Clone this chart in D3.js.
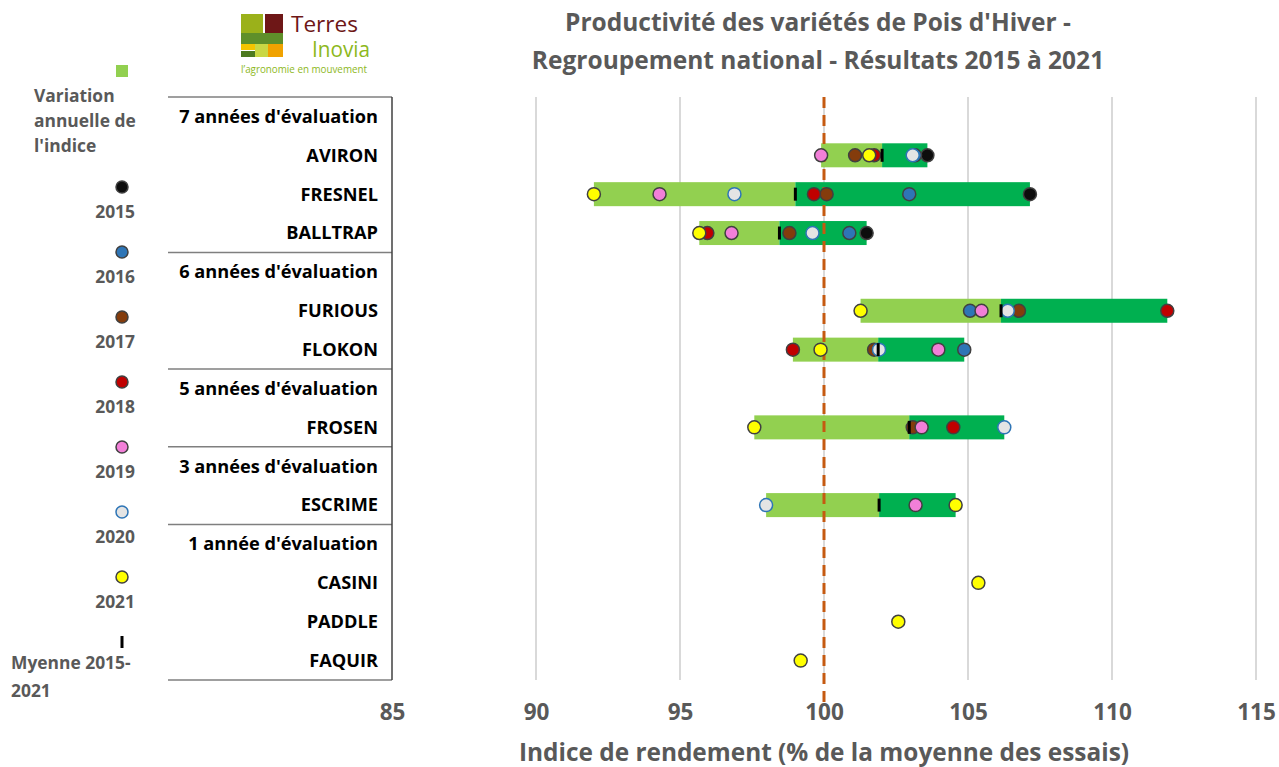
<!DOCTYPE html>
<html>
<head>
<meta charset="utf-8">
<script src="https://cdn.jsdelivr.net/npm/d3@7"></script>
<style>
  body { margin: 0; background: #fff; }
  text { font-family: "Open Sans", Lato, sans-serif; }
</style>
</head>
<body>
<div id="chart"></div>
<script>
// rows of the category panel (group headers + varieties)
const rows = [
    "7 années d'évaluation", "AVIRON", "FRESNEL", "BALLTRAP",
    "6 années d'évaluation", "FURIOUS", "FLOKON",
    "5 années d'évaluation", "FROSEN",
    "3 années d'évaluation", "ESCRIME",
    "1 année d'évaluation", "CASINI", "PADDLE", "FAQUIR"
];
const groupHeaders = ["7 années d'évaluation", "6 années d'évaluation", "5 années d'évaluation", "3 années d'évaluation", "1 année d'évaluation"];

const varieties = ["AVIRON", "FRESNEL", "BALLTRAP", "FURIOUS", "FLOKON", "FROSEN", "ESCRIME", "CASINI", "PADDLE", "FAQUIR"];
const years = ["2015", "2016", "2017", "2018", "2019", "2020", "2021"];

// yield index per year, one value per variety (null = not evaluated)
const y2015 = [103.59, 107.15, 101.48, null, null, null, null, null, null, null];
const y2016 = [103.16, 102.96, 100.88, 105.07, 104.87, null, null, null, null, null];
const y2017 = [101.08, 100.09, 98.80, 106.77, 101.74, 103.08, null, null, null, null];
const y2018 = [101.74, 99.65, 95.95, 111.92, 98.92, 104.49, null, null, null, null];
const y2019 = [99.90, 94.29, 96.79, 105.47, 103.97, 103.39, 103.18, null, null, null];
const y2020 = [103.08, 96.89, 99.60, 106.38, 101.91, 106.26, 97.99, null, null, null];
const y2021 = [101.57, 92.01, 95.67, 101.27, 99.88, 97.58, 104.57, 105.36, 102.58, 99.19];
const yearValues = [y2015, y2016, y2017, y2018, y2019, y2020, y2021];

const xTicks = [85, 90, 95, 100, 105, 110, 115];
const reference = 100;

const yearFill = ["#0d0d0d", "#2e75b6", "#843c0c", "#c00000", "#f27fd8", "#e4e4e4", "#ffff00"];
const yearStroke = ["#404040", "#404040", "#404040", "#404040", "#404040", "#2e75b6", "#404040"];
const LIGHT_GREEN = "#92d050";
const DARK_GREEN = "#00b050";
const GREY_TEXT = "#595959";

const W = 1279, H = 767;
const PLOT = { left: 392, right: 1256, top: 97, bottom: 680 };
const DOT_R = 6.5;
const BAR_H = 24;

const svg = d3.select("#chart").append("svg")
    .attr("width", W).attr("height", H);

const x = d3.scaleLinear().domain([85, 115]).range([PLOT.left, PLOT.right]);
const y = d3.scalePoint().domain(rows).range([PLOT.top, PLOT.bottom]).padding(0.5);

// gridlines
svg.append("g").selectAll("line")
    .data(xTicks.filter(t => t > 85))
    .join("line")
    .attr("x1", d => x(d)).attr("x2", d => x(d))
    .attr("y1", PLOT.top).attr("y2", PLOT.bottom)
    .attr("stroke", "#d9d9d9").attr("stroke-width", 2);

// category panel
const panel = svg.append("g");
const sepRows = groupHeaders.slice(1).map(h => y(h) - y.step() / 2);
panel.selectAll("line.sep")
    .data([PLOT.top, ...sepRows, PLOT.bottom])
    .join("line")
    .attr("x1", 168).attr("x2", PLOT.left)
    .attr("y1", d => d).attr("y2", d => d)
    .attr("stroke", "#7f7f7f").attr("stroke-width", 1.5);
panel.append("line")
    .attr("x1", PLOT.left).attr("x2", PLOT.left)
    .attr("y1", PLOT.top).attr("y2", PLOT.bottom)
    .attr("stroke", "#404040").attr("stroke-width", 1.5);
panel.selectAll("text")
    .data(rows)
    .join("text")
    .attr("x", 378).attr("y", d => y(d))
    .attr("dy", "0.35em")
    .attr("text-anchor", "end")
    .attr("font-size", 18.2).attr("font-weight", 700)
    .attr("fill", "#000")
    .text(d => d);

// x axis
const xAxis = d3.axisBottom(x).tickValues(xTicks).tickSize(0).tickPadding(0);
const axisG = svg.append("g")
    .attr("transform", `translate(0,${PLOT.bottom})`)
    .call(xAxis);
axisG.select(".domain").remove();
axisG.selectAll("text")
    .attr("y", 32).attr("dy", "0.35em")
    .attr("font-family", "'Open Sans', sans-serif")
    .attr("font-size", 22.5).attr("font-weight", 700)
    .attr("fill", GREY_TEXT);

svg.append("text")
    .attr("x", x(100)).attr("y", 752).attr("dy", "0.35em")
    .attr("text-anchor", "middle")
    .attr("font-size", 24.4).attr("font-weight", 700)
    .attr("fill", GREY_TEXT)
    .text("Indice de rendement (% de la moyenne des essais)");

// variety records
const records = varieties.map((name, i) => {
    const vals = years.map((yr, j) => ({ year: yr, idx: j, value: yearValues[j][i] }))
        .filter(d => d.value != null);
    const v = vals.map(d => d.value);
    return { name, vals, min: d3.min(v), max: d3.max(v), mean: d3.mean(v) };
});
const multi = records.filter(r => r.vals.length > 1);

// bars: min -> mean light green, mean -> max dark green
const bars = svg.append("g");
bars.selectAll("rect.low")
    .data(multi).join("rect")
    .attr("x", d => x(d.min)).attr("width", d => x(d.mean) - x(d.min))
    .attr("y", d => y(d.name) - BAR_H / 2).attr("height", BAR_H)
    .attr("fill", LIGHT_GREEN);
bars.selectAll("rect.high")
    .data(multi).join("rect")
    .attr("x", d => x(d.mean)).attr("width", d => x(d.max) - x(d.mean))
    .attr("y", d => y(d.name) - BAR_H / 2).attr("height", BAR_H)
    .attr("fill", DARK_GREEN);

// reference line at 100
svg.append("line")
    .attr("x1", x(reference)).attr("x2", x(reference))
    .attr("y1", PLOT.top).attr("y2", 702)
    .attr("stroke", "#c55a11").attr("stroke-width", 3)
    .attr("stroke-dasharray", "11,7");

// yearly dots (later years on top)
const dots = records.flatMap(r => r.vals.map(v => ({ name: r.name, ...v })))
    .sort((a, b) => a.idx - b.idx);
svg.append("g").selectAll("circle")
    .data(dots).join("circle")
    .attr("cx", d => x(d.value)).attr("cy", d => y(d.name))
    .attr("r", DOT_R)
    .attr("fill", d => yearFill[d.idx])
    .attr("stroke", d => yearStroke[d.idx])
    .attr("stroke-width", 1.5);

// mean markers
svg.append("g").selectAll("rect")
    .data(multi).join("rect")
    .attr("x", d => x(d.mean) - 1.5).attr("width", 3)
    .attr("y", d => y(d.name) - 6.5).attr("height", 13)
    .attr("fill", "#000");

// title
const title = svg.append("text")
    .attr("text-anchor", "middle")
    .attr("font-size", 24.5).attr("font-weight", 700)
    .attr("fill", GREY_TEXT);
title.append("tspan").attr("x", 818).attr("y", 31).text("Productivité des variétés de Pois d'Hiver -");
title.append("tspan").attr("x", 818).attr("y", 69).text("Regroupement national - Résultats 2015 à 2021");

// legend
const LEG_FS = 17.4;
const legend = svg.append("g");
legend.append("rect")
    .attr("x", 116).attr("y", 65).attr("width", 12).attr("height", 12)
    .attr("fill", LIGHT_GREEN);
["Variation", "annuelle de", "l'indice"].forEach((t, i) => {
    legend.append("text")
        .attr("x", 34).attr("y", 96 + i * 25).attr("dy", "0.35em")
        .attr("font-size", LEG_FS).attr("font-weight", 700)
        .attr("fill", GREY_TEXT).text(t);
});
years.forEach((yr, i) => {
    const cy = 187 + i * 65;
    legend.append("circle")
        .attr("cx", 122).attr("cy", cy).attr("r", 6)
        .attr("fill", yearFill[i]).attr("stroke", yearStroke[i]).attr("stroke-width", 1.5);
    legend.append("text")
        .attr("x", 135).attr("y", cy + 25).attr("dy", "0.35em")
        .attr("text-anchor", "end")
        .attr("font-size", LEG_FS).attr("font-weight", 700)
        .attr("fill", GREY_TEXT).text(yr);
});
legend.append("rect")
    .attr("x", 120.5).attr("y", 636).attr("width", 3).attr("height", 12)
    .attr("fill", "#000");
legend.append("text")
    .attr("x", 11).attr("y", 663).attr("dy", "0.35em")
    .attr("font-size", LEG_FS).attr("font-weight", 700)
    .attr("fill", GREY_TEXT).text("Myenne 2015-");
legend.append("text")
    .attr("x", 11).attr("y", 691).attr("dy", "0.35em")
    .attr("font-size", LEG_FS).attr("font-weight", 700)
    .attr("fill", GREY_TEXT).text("2021");

// logo
const logo = svg.append("g");
[
    [241, 14, 22, 19, "#9bb11a"],
    [265, 14, 18, 19, "#6e1717"],
    [241, 33, 42, 11, "#5f8f2a"],
    [241, 44, 14, 6, "#f5c400"],
    [241, 51, 14, 6, "#4d7a1f"],
    [255, 44, 13, 13, "#c9d744"],
    [268, 44, 15, 13, "#f0a200"]
].forEach(([lx, ly, lw, lh, c]) => {
    logo.append("rect").attr("x", lx).attr("y", ly).attr("width", lw).attr("height", lh).attr("fill", c);
});
logo.append("text")
    .attr("x", 291).attr("y", 32)
    .attr("font-family", "Lato, sans-serif")
    .attr("font-size", 21.5)
    .attr("textLength", 67).attr("lengthAdjust", "spacingAndGlyphs")
    .attr("fill", "#6e1717").text("Terres");
logo.append("text")
    .attr("x", 312).attr("y", 57)
    .attr("font-family", "Lato, sans-serif")
    .attr("font-size", 21.5)
    .attr("textLength", 58).attr("lengthAdjust", "spacingAndGlyphs")
    .attr("fill", "#8db81c").text("Inovia");
logo.append("text")
    .attr("x", 241).attr("y", 73)
    .attr("font-family", "Lato, sans-serif")
    .attr("font-size", 11)
    .attr("textLength", 126).attr("lengthAdjust", "spacingAndGlyphs")
    .attr("fill", "#8db81c").text("l’agronomie en mouvement");
</script>
</body>
</html>
